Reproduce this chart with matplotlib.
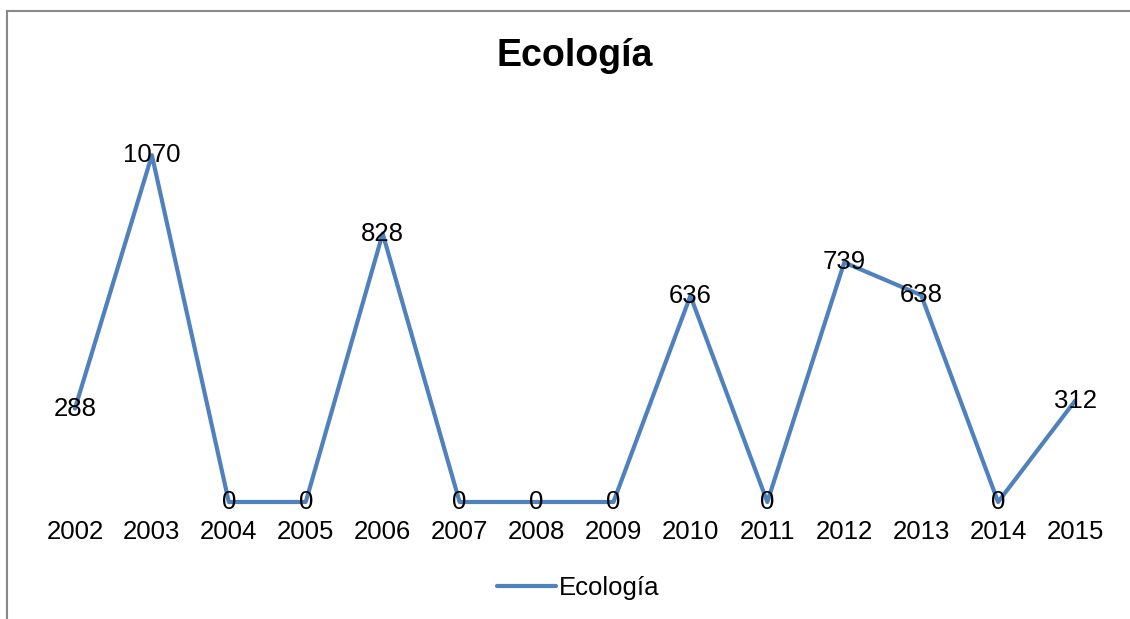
import matplotlib.pyplot as plt
from matplotlib.lines import Line2D

plt.rcParams['font.family'] = ['Liberation Sans', 'DejaVu Sans']

# yearly counts
years = ['2002', '2003', '2004', '2005', '2006', '2007', '2008',
         '2009', '2010', '2011', '2012', '2013', '2014', '2015']
values = [288, 1070, 0, 0, 828, 0, 0, 0, 636, 0, 739, 638, 0, 312]

W, H = 1130, 619
fig = plt.figure(figsize=(W / 100, H / 100), dpi=100)

# plot area in pixel terms, converted to figure fractions
left, right = 36.5, 1113.5
y_zero, y_top = 502, 113
ax = fig.add_axes([left / W, (H - y_zero) / H, (right - left) / W, (y_zero - y_top) / H])

xs = list(range(len(years)))
line, = ax.plot(xs, values, color='#4F81BD', lw=3, solid_joinstyle='round',
                solid_capstyle='round', label='Ecología', clip_on=False)

# value labels centred on the points
for x, v in zip(xs, values):
    ax.text(x, v, str(v), ha='center', va='center', fontsize=18.5, color='black')

ax.set_xlim(-0.5, len(years) - 0.5)
ax.set_ylim(0, 1200)
ax.set_xticks(xs)
ax.set_xticklabels(years, fontsize=18.5)
ax.tick_params(axis='x', length=0, pad=13)
ax.set_yticks([])
for s in ax.spines.values():
    s.set_visible(False)

fig.text(575 / W, 1 - 56 / H, 'Ecología', ha='center', va='center',
         fontsize=27, fontweight='bold')

fig.legend(handles=[line], loc='center', bbox_to_anchor=(578 / W, 1 - 588 / H),
           frameon=False, fontsize=18.5, handlelength=2.3, handletextpad=0.1)

# chart border (top and left edges)
fig.add_artist(Line2D([7 / W, 1], [1 - 11 / H, 1 - 11 / H], color='#888888', lw=1.5))
fig.add_artist(Line2D([7 / W, 7 / W], [0, 1 - 11 / H], color='#888888', lw=1.5))

fig.savefig('out.png', dpi=100)
